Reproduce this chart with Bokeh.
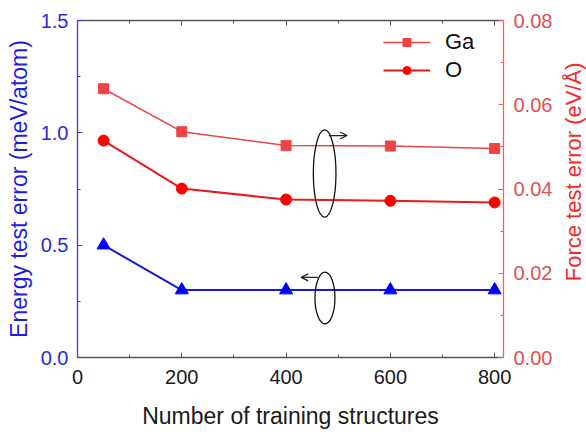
import math

from bokeh.plotting import figure
from bokeh.layouts import row
from bokeh.models import (LinearAxis, Range1d, FixedTicker, PrintfTickFormatter,
                          CustomJSTickFormatter, Legend, LegendItem, Arrow, OpenHead, Label)
from bokeh.embed import file_html
from bokeh.resources import INLINE

# Training-set size vs. test errors
structures = [50, 200, 400, 600, 800]
energy_err = [0.50, 0.30, 0.30, 0.30, 0.30]          # meV/atom
force_ga = [0.0638, 0.0536, 0.0503, 0.0502, 0.0496]  # eV/Å
force_o = [0.0515, 0.0401, 0.0375, 0.0372, 0.0368]   # eV/Å

x_ticks = [0, 200, 400, 600, 800]
x_minor = [100, 300, 500, 700]
e_ticks = [0.0, 0.5, 1.0, 1.5]
e_minor = [0.25, 0.75, 1.25]
f_ticks = [0.00, 0.02, 0.04, 0.06, 0.08]
f_minor = [0.01, 0.03, 0.05, 0.07]

FONT = "Liberation Sans"
BLUE = "#0000ff"
BLUE_AX = "#3c3cf0"
RED = "#ff0000"
RED_SQ = "#ec4545"
RED_AX = "#e86464"
GREY = "#555555"

p = figure(width=560, height=432, output_backend="svg", toolbar_location=None,
           x_range=Range1d(0, 817), y_range=Range1d(0, 1.5),
           min_border_left=77, min_border_right=57, min_border_top=20, min_border_bottom=75)
p.extra_y_ranges = {"force": Range1d(0, 0.08)}
p.outline_line_color = None
p.xgrid.visible = False
p.ygrid.visible = False
p.background_fill_color = "white"


def style_axis(ax, color, label_color, ticks, minor):
    ax.ticker = FixedTicker(ticks=ticks, minor_ticks=minor)
    ax.axis_line_color = color
    ax.axis_line_width = 1.3
    ax.major_tick_line_color = color
    ax.minor_tick_line_color = color
    ax.major_tick_in = 5
    ax.major_tick_out = 0
    ax.minor_tick_in = 3
    ax.minor_tick_out = 0
    ax.major_label_text_color = label_color
    ax.major_label_text_font = FONT
    ax.major_label_text_font_size = "20px"
    ax.axis_label_text_font = FONT
    ax.axis_label_text_font_size = "23px"
    ax.axis_label_text_font_style = "normal"


# bottom axis
xa = p.xaxis[0]
style_axis(xa, GREY, "#1a1a1a", x_ticks, x_minor)
xa.axis_label = "Number of training structures"
xa.axis_label_text_color = "#1a1a1a"
xa.major_label_standoff = 12
xa.axis_label_standoff = 16

# left axis (energy)
ya = p.yaxis[0]
style_axis(ya, BLUE_AX, "#2a2ad8", e_ticks, e_minor)
ya.formatter = PrintfTickFormatter(format="%.1f")
ya.axis_label = "Energy test error (meV/atom)"
ya.axis_label_text_color = "#1e1ee0"
ya.major_label_standoff = 9
ya.axis_label_standoff = 6

# right axis (force); its title sits in a narrow strip beside the plot
ra = LinearAxis(y_range_name="force")
style_axis(ra, RED_AX, "#e05050", f_ticks, f_minor)
ra.formatter = PrintfTickFormatter(format="%.2f")
ra.major_label_standoff = 10
p.add_layout(ra, "right")

# top frame axis, ticks only
ta = LinearAxis()
style_axis(ta, GREY, "#1a1a1a", x_ticks, x_minor)
ta.formatter = CustomJSTickFormatter(code="return ''")
ta.major_label_standoff = 0
p.add_layout(ta, "above")

# series
ga_line = p.line(structures, force_ga, y_range_name="force", line_color=RED_SQ, line_width=1.5)
ga_pts = p.scatter(structures, force_ga, y_range_name="force", marker="square", size=10,
                   fill_color=RED_SQ, line_color=RED_SQ)
o_line = p.line(structures, force_o, y_range_name="force", line_color="#e41c1c", line_width=2)
o_pts = p.scatter(structures, force_o, y_range_name="force", marker="circle", size=11,
                  fill_color=RED, line_color=RED)
p.line(structures, energy_err, line_color="#1818e0", line_width=2)
p.scatter(structures, energy_err, marker="triangle", size=13, fill_color=BLUE, line_color=BLUE)

# ovals with arrows indicating which axis each group belongs to
p.ellipse(x=[474, 474.6], y=[0.819, 0.265], width=[43.4, 38.3], height=[0.389, 0.230],
          fill_color=None, line_color="#111111", line_width=1.3)
p.add_layout(Arrow(end=OpenHead(size=7, line_color="#222222", line_width=1.3),
                   x_start=482, y_start=0.988, x_end=517, y_end=0.988,
                   line_color="#222222", line_width=1.3))
p.add_layout(Arrow(end=OpenHead(size=7, line_color="#222222", line_width=1.3),
                   x_start=461, y_start=0.357, x_end=429, y_end=0.357,
                   line_color="#222222", line_width=1.3))

legend = Legend(items=[LegendItem(label="Ga", renderers=[ga_line, ga_pts]),
                       LegendItem(label="O", renderers=[o_line, o_pts])],
                location=(306, 274), glyph_width=47, glyph_height=20, spacing=2,
                label_standoff=15, padding=0, margin=0, border_line_color=None,
                background_fill_alpha=0, label_text_font=FONT, label_text_font_size="22px",
                label_text_color="#111111")
p.add_layout(legend)

# strip holding the right-hand title, reading bottom to top
strip = figure(width=26, height=432, output_backend="svg", toolbar_location=None,
               x_range=Range1d(0, 26), y_range=Range1d(0, 432),
               x_axis_type=None, y_axis_type=None, min_border=0)
strip.outline_line_color = None
strip.xgrid.visible = False
strip.ygrid.visible = False
strip.add_layout(Label(x=13, y=238, text="Force test error (eV/Å)", angle=math.pi / 2,
                       text_align="center", text_baseline="middle",
                       text_font=FONT, text_font_size="22px", text_color="#ee2a2a"))

layout = row(p, strip, spacing=0)
open("out.html", "w").write(file_html(layout, INLINE))
